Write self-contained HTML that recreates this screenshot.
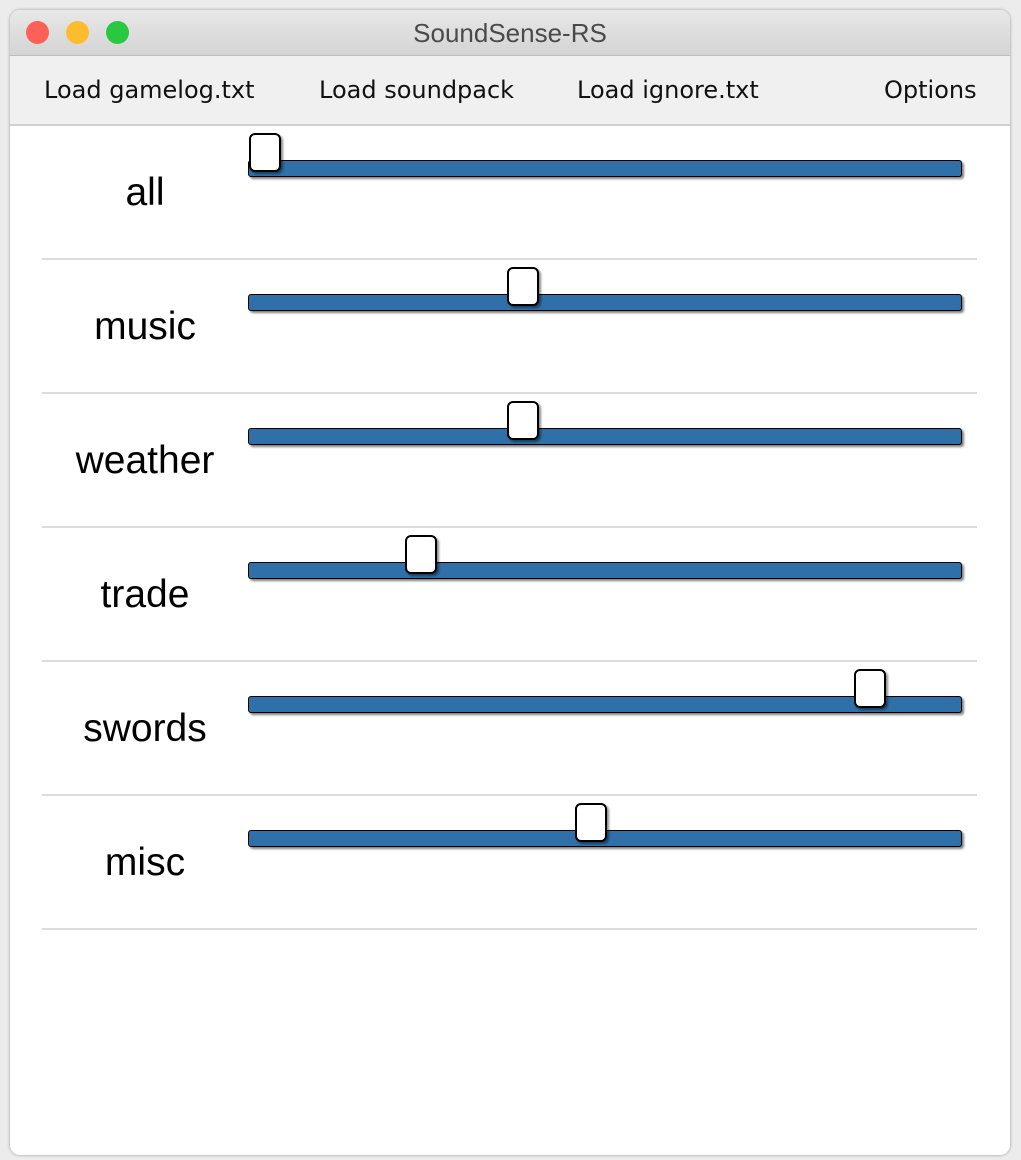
<!DOCTYPE html>
<html><head><meta charset="utf-8"><style>
body{margin:0;width:1021px;height:1160px;background:#ececec;position:relative;overflow:hidden;font-family:"Liberation Sans",sans-serif}
#win{position:absolute;left:10px;top:10px;width:1000px;height:1145px;background:#fff;border-radius:10px;box-shadow:0 0 3px rgba(0,0,0,.35);overflow:hidden}
#title{position:absolute;left:0;top:0;width:1000px;height:45px;background:linear-gradient(#e8e8e8,#d4d4d4);border-bottom:1px solid #bdbdbd;text-align:center;line-height:47px;font-size:26px;color:#4a4a4a}
.dot{position:absolute;top:11px;width:23px;height:23px;border-radius:50%}
#menu{position:absolute;left:0;top:46px;width:1000px;height:68px;background:#f0f0f0;border-bottom:2px solid #cfcfcf}
.mi{position:absolute;top:20px;font-family:"DejaVu Sans",sans-serif;font-size:24px;color:#111}
.lbl{position:absolute;width:200px;left:35px;text-align:center;font-size:39px;color:#000}
.sep{position:absolute;left:32px;width:935px;height:2px;background:#dcdcdc}
.track{position:absolute;left:238px;width:712px;height:15px;background:#2f70a8;border:1px solid #000;border-radius:3px;box-shadow:2px 2px 2px rgba(0,0,0,.5)}
.thumb{position:absolute;width:28px;height:35px;background:#fff;border:2px solid #000;border-radius:6px;box-shadow:2px 2px 2px rgba(0,0,0,.45)}
</style></head><body>
<div id="win">
<div id="title">SoundSense-RS
<div class="dot" style="left:16px;background:#fe5f57"></div>
<div class="dot" style="left:56px;background:#febc2e"></div>
<div class="dot" style="left:96px;background:#28c840"></div>
</div>
<div id="menu">
<span class="mi" style="left:34px">Load gamelog.txt</span>
<span class="mi" style="left:309px">Load soundpack</span>
<span class="mi" style="left:567px">Load ignore.txt</span>
<span class="mi" style="left:874px">Options</span>
</div>
<div id="rows"></div>
</div>
<script>
const channels=["all","music","weather","trade","swords","misc"];
const volumes=[0,0.38,0.38,0.23,0.89,0.48];
const rows=document.getElementById('rows');
const x0=255,x1=935; // thumb center range (window coords)
channels.forEach((c,i)=>{
  const top=115+i*134;
  const l=document.createElement('div');l.className='lbl';l.textContent=c;l.style.top=(top+46)+'px';
  
  
  rows.appendChild(l);
  const t=document.createElement('div');t.className='track';t.style.top=(top+35)+'px';
  
  
  rows.appendChild(t);
  const th=document.createElement('div');th.className='thumb';
  th.style.left=(x0+volumes[i]*(x1-x0)-16)+'px';th.style.top=(top+8)+'px';
  
  
  rows.appendChild(th);
  const s=document.createElement('div');s.className='sep';s.style.top=(top+133)+'px';
  
  
  rows.appendChild(s);
});
</script>
</body></html>
